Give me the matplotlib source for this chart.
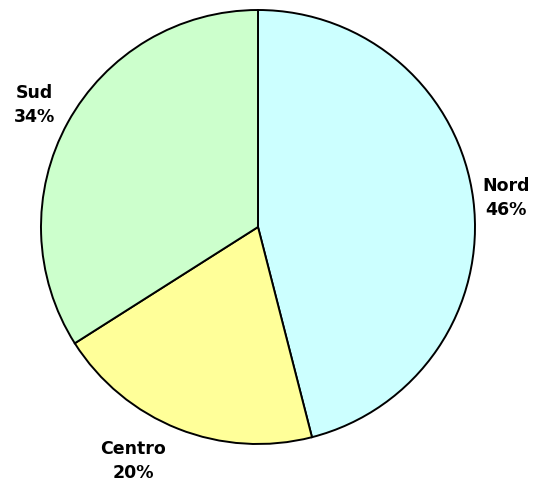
import matplotlib
matplotlib.use("Agg")
import matplotlib.pyplot as plt

regions = ["Nord", "Centro", "Sud"]
shares = [46, 20, 34]
colors = ["#CCFFFF", "#FFFF99", "#CCFFCC"]

# label anchors in figure pixels (x from left, y from bottom)
label_xy = [(506, 283), (133, 20), (34, 376)]

fig = plt.figure(figsize=(5.41, 4.81), dpi=100)
ax = fig.add_axes([0, 0, 1, 1])

cx, cy, r = 258, 253, 217
wedges, _ = ax.pie(shares, colors=colors, startangle=90, counterclock=False,
                   center=(cx, cy), radius=r, frame=True,
                   wedgeprops=dict(edgecolor="black", linewidth=1.4))
ax.set_xlim(0, 541)
ax.set_ylim(0, 481)
ax.set_aspect("equal")
ax.axis("off")

for (x, y), name, val in zip(label_xy, regions, shares):
    ax.text(x, y, f"{name}\n{val}%", ha="center", va="center",
            fontsize=12.5, fontweight="bold", family="DejaVu Sans",
            linespacing=1.45)

fig.savefig("out.png", dpi=100)
